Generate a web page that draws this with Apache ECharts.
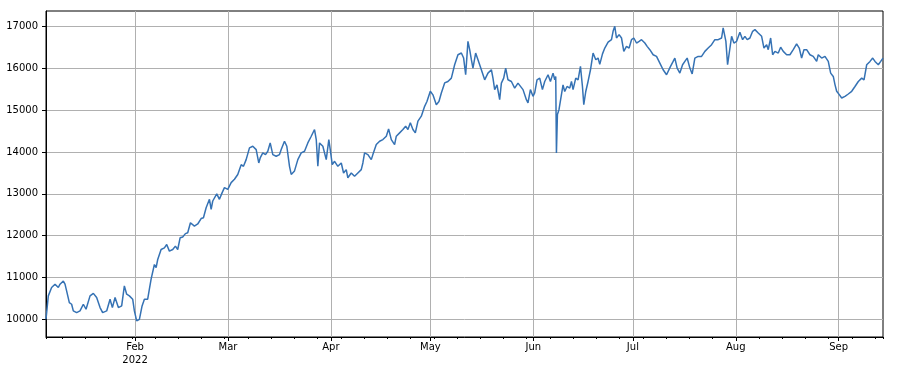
<!DOCTYPE html>
<html><head><meta charset="utf-8">
<script src="https://cdn.jsdelivr.net/npm/echarts@6/dist/echarts.min.js"></script>
<style>html,body{margin:0;padding:0;background:#fff}#c{width:907px;height:371px}</style>
</head><body><div id="c"></div>
<script>
// day of year (0 = 1 Jan 2022), fractional
const days = [4.16,4.86,5.85,6.88,7.87,8.38,9.38,9.89,10.37,11.19,11.88,12.39,13.39,14.41,15.41,16.22,17.43,18.43,19.42,20.45,21.23,22.44,23.46,24.16,24.97,25.97,26.96,27.77,28.47,29.28,30.28,30.79,31.48,32.30,33.11,33.81,34.80,35.31,35.83,36.82,37.34,37.82,38.84,39.84,40.53,41.34,42.34,43.15,43.85,44.57,45.35,46.17,46.86,47.68,48.88,49.88,50.90,51.60,52.41,53.41,53.92,54.40,54.92,55.61,56.42,57.24,57.93,58.93,59.95,60.95,61.94,62.97,63.66,64.47,65.47,66.47,67.49,68.27,68.70,69.48,70.30,70.99,71.71,72.50,73.52,74.52,75.03,76.02,76.72,77.53,78.05,79.04,80.04,81.06,82.06,83.05,84.08,85.07,85.59,86.07,86.58,87.58,88.60,89.38,89.81,90.41,91.11,92.10,93.13,93.82,94.63,95.11,96.14,97.13,98.13,99.15,99.64,100.15,101.15,102.17,102.65,103.68,104.68,105.67,106.70,107.39,108.21,109.20,109.71,110.71,111.70,112.52,113.21,113.94,114.72,115.44,116.23,117.25,118.25,118.94,119.96,120.75,121.77,122.56,123.28,124.28,125.27,126.30,127.29,128.29,129.31,130.00,130.61,131.30,131.82,132.33,132.81,133.62,134.32,134.83,135.34,136.34,137.33,138.36,138.84,139.35,140.05,140.86,141.37,142.07,142.67,143.36,144.39,145.38,146.38,146.89,147.89,148.91,149.39,150.12,150.90,151.41,152.11,152.92,153.74,154.43,155.43,156.15,156.94,157.45,157.75,157.96,158.26,158.74,159.47,159.95,160.46,161.16,161.97,162.49,162.97,163.78,164.48,165.20,165.80,166.20,166.80,167.49,168.22,169.00,169.82,170.51,171.02,171.84,172.53,173.53,174.55,175.03,175.54,176.06,176.84,177.57,178.26,179.07,179.86,180.58,181.28,182.09,182.88,183.60,184.60,185.29,186.10,187.10,188.12,189.12,190.11,191.14,191.62,192.34,193.13,193.64,194.34,195.15,195.97,196.66,197.35,198.17,198.86,199.67,200.67,201.69,202.69,203.68,204.71,205.70,206.70,207.72,208.20,209.02,209.53,210.01,210.74,211.43,212.25,213.24,214.06,214.75,215.45,216.26,217.08,217.77,218.77,219.79,220.49,221.30,221.78,222.51,223.11,223.80,224.80,225.52,226.31,227.33,228.32,229.32,230.33,231.12,231.84,232.54,233.35,234.35,235.34,236.37,236.85,237.88,238.87,239.87,240.59,241.38,241.89,242.40,243.19,243.91,244.91,245.90,246.93,247.92,248.92,249.95,250.64,251.45,252.45,253.26,253.95,254.95,255.67,256.36];
const values = [10000,10560,10760,10840,10760,10840,10915,10840,10680,10400,10360,10200,10160,10200,10360,10240,10560,10620,10520,10280,10160,10200,10480,10280,10520,10280,10320,10800,10600,10560,10480,10200,9960,10000,10320,10480,10480,10720,10960,11310,11235,11430,11670,11710,11790,11630,11670,11750,11670,11950,11970,12050,12070,12310,12230,12280,12410,12430,12670,12870,12630,12830,12870,13000,12870,13030,13150,13110,13270,13350,13465,13700,13660,13820,14100,14140,14060,13740,13860,13980,13940,14020,14220,13940,13900,13940,14060,14260,14140,13660,13465,13550,13820,13980,14020,14220,14380,14540,14300,13660,14220,14140,13820,14300,14060,13700,13780,13660,13740,13500,13580,13385,13500,13420,13500,13580,13740,13980,13940,13820,13940,14180,14260,14300,14380,14555,14300,14180,14380,14460,14540,14620,14540,14700,14540,14460,14740,14860,15095,15210,15455,15370,15135,15210,15415,15655,15690,15770,16090,16330,16370,16250,15850,16650,16450,16210,16010,16370,16210,16090,15970,15730,15890,15970,15770,15495,15610,15255,15650,15770,16010,15730,15690,15530,15650,15690,15495,15255,15175,15495,15335,15415,15730,15770,15495,15690,15850,15690,15890,15730,15810,13980,14900,15020,15375,15610,15450,15570,15530,15690,15495,15770,15730,16050,15570,15135,15450,15690,15970,16370,16210,16250,16100,16350,16490,16630,16690,16890,17010,16730,16810,16730,16410,16530,16490,16690,16730,16610,16650,16690,16610,16530,16450,16330,16290,16130,15970,15850,15810,16050,16170,16250,16010,15890,16090,16170,16250,16010,15870,16250,16290,16290,16410,16490,16570,16690,16690,16730,16970,16650,16090,16130,16770,16610,16650,16870,16690,16770,16690,16730,16890,16930,16850,16770,16490,16570,16450,16730,16330,16410,16370,16510,16410,16330,16330,16450,16590,16490,16250,16450,16450,16330,16290,16170,16330,16250,16290,16170,15890,15810,15615,15455,15375,15295,15335,15390,15455,15570,15690,15770,15730,16090,16170,16250,16170,16090,16170,16250];

const monthStartDays = [31,59,90,120,151,181,212,243];
const monthLabels = ['Feb\n2022','Mar','Apr','May','Jun','Jul','Aug','Sep'];
const mondayDays = [9,16,23,30,37,44,51,58,65,72,79,86,93,100,107,114,121,128,135,142,149,156,163,170,177,184,191,198,205,212,219,226,233,240,247,254];
const yTicks = [10000,11000,12000,13000,14000,15000,16000,17000];
const yMin = 9576, yMax = 17376;

const xMin = days[0], xMax = days[days.length - 1];
const minorTicks = [xMin].concat(mondayDays, [xMax]);
const font = {fontFamily: 'DejaVu Sans', fontSize: 10, color: '#000'};

const chart = echarts.init(document.getElementById('c'), null, {renderer: 'canvas'});
chart.setOption({
  animation: false,
  backgroundColor: '#fff',
  grid: {left: 46, right: 24, top: 11, bottom: 34, show: true, borderColor: '#000', borderWidth: 1, backgroundColor: 'transparent'},
  xAxis: [{
    type: 'value', min: xMin, max: xMax,
    axisLine: {show: true, lineStyle: {color: '#000', width: 1}},
    axisTick: {show: true, length: 4, lineStyle: {color: '#000', width: 1}, customValues: monthStartDays},
    axisLabel: Object.assign({customValues: monthStartDays, margin: 4, lineHeight: 13,
      formatter: function (v) { const i = monthStartDays.indexOf(Math.round(v)); return i >= 0 ? monthLabels[i] : ''; }}, font),
    splitLine: {show: true, lineStyle: {color: '#b0b0b0', width: 1}}
  }, {
    type: 'value', min: xMin, max: xMax, position: 'bottom',
    axisLine: {show: false},
    axisTick: {show: true, length: 2, lineStyle: {color: '#000', width: 1}, customValues: minorTicks},
    axisLabel: {show: false},
    splitLine: {show: false}
  }],
  yAxis: {
    type: 'value', min: yMin, max: yMax,
    axisLine: {show: true, lineStyle: {color: '#000', width: 1}},
    axisTick: {show: true, length: 4, lineStyle: {color: '#000', width: 1}, customValues: yTicks},
    axisLabel: Object.assign({customValues: yTicks, margin: 8, formatter: function (v) { return String(Math.round(v)); }}, font),
    splitLine: {show: true, lineStyle: {color: '#b0b0b0', width: 1}}
  },
  series: [{
    type: 'line', xAxisIndex: 0,
    data: days.map((d, i) => [d, values[i]]),
    showSymbol: false, symbol: 'none',
    lineStyle: {color: '#3572b4', width: 1.5},
    itemStyle: {color: '#3572b4'}
  }]
});
</script></body></html>
